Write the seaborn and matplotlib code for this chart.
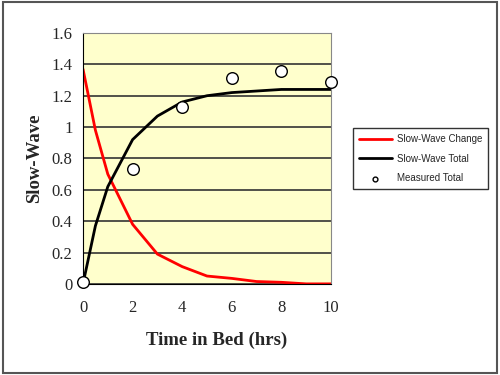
import numpy as np
import pandas as pd
import matplotlib
matplotlib.use('Agg')
import matplotlib.pyplot as plt
import seaborn as sns
from matplotlib.patches import Rectangle

# curve values
hours = [0, 0.5, 1, 2, 3, 4, 5, 6, 7, 8, 9, 10]
sw_change = [1.37, 0.98, 0.70, 0.38, 0.19, 0.11, 0.05, 0.035, 0.015, 0.01, 0.0, 0.0]
sw_total = [0.0, 0.37, 0.62, 0.92, 1.07, 1.16, 1.20, 1.22, 1.23, 1.24, 1.24, 1.24]

meas_hours = [0, 2, 4, 6, 8, 10]
meas_total = [0.01, 0.73, 1.13, 1.31, 1.36, 1.29]

curves = pd.DataFrame({'hours': hours, 'change': sw_change, 'total': sw_total})
meas = pd.DataFrame({'hours': meas_hours, 'total': meas_total})

sns.set_style('white')
plt.rcParams['font.family'] = ['Liberation Serif', 'DejaVu Serif']

fig = plt.figure(figsize=(5, 3.75), dpi=100)
ax = fig.add_axes([0.166, 0.243, 0.496, 0.669])
ax.set_facecolor('#FFFFCC')

sns.lineplot(data=curves, x='hours', y='change', color='#FF0000', lw=2,
             label='Slow-Wave Change', ax=ax)
sns.lineplot(data=curves, x='hours', y='total', color='black', lw=2,
             label='Slow-Wave Total', ax=ax)
sns.scatterplot(data=meas, x='hours', y='total', s=70, color='white',
                edgecolor='black', linewidth=1, label='Measured Total', ax=ax,
                zorder=5, clip_on=False)

ax.set_xlim(0, 10)
ax.set_ylim(0, 1.6)
ax.set_xticks(range(0, 11, 2))
ax.set_yticks(np.arange(0, 1.61, 0.2))
ax.set_yticklabels(['0', '0.2', '0.4', '0.6', '0.8', '1', '1.2', '1.4', '1.6'])
ax.yaxis.grid(True, color='#333333', lw=1.2)
ax.set_axisbelow(True)
ax.tick_params(axis='both', direction='out', length=3.5, width=1, labelsize=12,
               color='black', pad=4)
ax.tick_params(axis='x', pad=8)
for side in ['left', 'bottom']:
    ax.spines[side].set_color('black')
for side in ['right', 'top']:
    ax.spines[side].set_color('#888888')
ax.set_xlabel('Time in Bed (hrs)', fontsize=13.5, fontweight='bold')
ax.set_ylabel('Slow-Wave', fontsize=13.5, fontweight='bold')
ax.xaxis.set_label_coords(0.54, -0.191)
ax.yaxis.set_label_coords(-0.161, 0.5)

leg = ax.legend(loc='upper left', bbox_to_anchor=(1.089, 0.621), frameon=True,
                fancybox=False, edgecolor='black',
                prop={'family': 'Liberation Sans', 'size': 7},
                handlelength=3.4, borderpad=0.6, borderaxespad=0,
                labelspacing=1.0, handletextpad=0.5)
leg.get_frame().set_linewidth(1)
leg.legend_handles[2].set_sizes([12])

fig.patches.append(Rectangle((0.006, 0.006), 0.988, 0.988, transform=fig.transFigure,
                             fill=False, edgecolor='#555555', lw=1.5))

fig.savefig('out.png', dpi=100)
